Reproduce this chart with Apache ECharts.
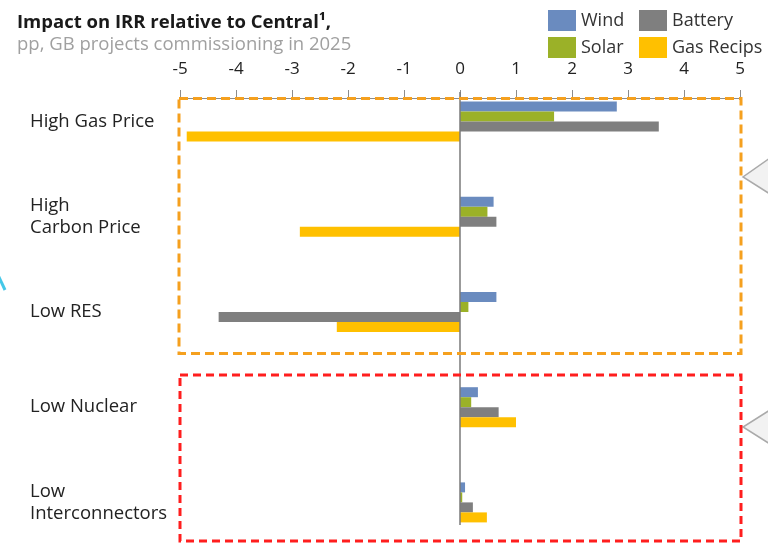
<!DOCTYPE html>
<html>
<head>
<meta charset="utf-8">
<script src="https://cdn.jsdelivr.net/npm/echarts@6/dist/echarts.min.js"></script>
<style>
html,body{margin:0;padding:0;background:#fff;}
#chart{width:768px;height:543px;}
</style>
</head>
<body>
<div id="chart"></div>
<script>
// ===== data =====
const scenarios = ['High Gas Price', 'High\nCarbon Price', 'Low RES', 'Low Nuclear', 'Low\nInterconnectors'];
const windVals    = [2.8, 0.6, 0.65, 0.32, 0.09];
const solarVals   = [1.68, 0.49, 0.15, 0.2, 0.04];
const batteryVals = [3.55, 0.65, -4.31, 0.69, 0.23];
const gasVals     = [-4.88, -2.86, -2.2, 1.0, 0.48];
const xTicks = [-5, -4, -3, -2, -1, 0, 1, 2, 3, 4, 5];

const FONT = '"Open Sans", "Noto Sans", sans-serif';
const colors = { wind: '#6A8BBF', solar: '#9BB128', battery: '#7F7F7F', gas: '#FFC000' };

const chart = echarts.init(document.getElementById('chart'));

const bar = (name, data, color) => ({
    name, type: 'bar', data,
    barWidth: 10, barGap: '0%',
    itemStyle: { color },
    emphasis: { disabled: true },
    animation: false
});

const legendStyle = {
    orient: 'vertical', top: 10, padding: 0, icon: 'rect',
    itemWidth: 28, itemHeight: 21, itemGap: 6, selectedMode: false,
    textStyle: { fontSize: 18, color: '#333', fontFamily: FONT }
};

chart.setOption({
    backgroundColor: '#fff',
    textStyle: { fontFamily: FONT },
    title: {
        left: 17, top: 13, padding: 0,
        text: 'Impact on IRR relative to Central¹,',
        subtext: 'pp, GB projects commissioning in 2025',
        itemGap: 3,
        textStyle: { fontSize: 18.5, fontWeight: 'bold', color: '#1a1a1a', fontFamily: FONT },
        subtextStyle: { fontSize: 18.5, color: '#a0a0a0', fontFamily: FONT }
    },
    legend: [
        Object.assign({ data: ['Wind', 'Solar'], left: 548 }, legendStyle),
        Object.assign({ data: ['Battery', 'Gas Recips'], left: 639 }, legendStyle)
    ],
    grid: { left: 180, width: 560, top: 74, height: 476, containLabel: false, outerBoundsMode: 'none' },
    xAxis: {
        type: 'value', position: 'top', offset: -24,
        min: xTicks[0], max: xTicks[xTicks.length - 1], interval: 1,
        axisLine: { show: true, lineStyle: { color: '#8c8c8c', width: 1 } },
        axisTick: { show: true, length: 8, lineStyle: { color: '#8c8c8c' } },
        axisLabel: { margin: 20, fontSize: 17, color: '#222', fontFamily: FONT },
        splitLine: { show: false }
    },
    yAxis: {
        type: 'category', data: scenarios, inverse: true,
        axisLine: { show: false }, axisTick: { show: false },
        axisLabel: { align: 'left', margin: 150, fontSize: 18.5, lineHeight: 22, color: '#222', fontFamily: FONT },
        splitLine: { show: false }
    },
    series: [
        bar('Wind', windVals, colors.wind),
        bar('Solar', solarVals, colors.solar),
        bar('Battery', batteryVals, colors.battery),
        bar('Gas Recips', gasVals, colors.gas)
    ]
});

// zero line, dashed scenario boxes and cropped callouts
const x0 = chart.convertToPixel({ xAxisIndex: 0 }, 0);
chart.setOption({
    graphic: [
        { type: 'line', silent: true, z: 5, shape: { x1: x0, y1: 92, x2: x0, y2: 525 },
          style: { stroke: '#7a7a7a', lineWidth: 1.5 } },
        { type: 'rect', silent: true, z: 6, shape: { x: 179, y: 98.5, width: 562, height: 255 },
          style: { fill: 'none', stroke: '#F5A01E', lineWidth: 3, lineDash: [9, 5] } },
        { type: 'rect', silent: true, z: 6, shape: { x: 180, y: 375, width: 561, height: 166 },
          style: { fill: 'none', stroke: '#FF1E1E', lineWidth: 3, lineDash: [8, 5] } },
        { type: 'polygon', silent: true, shape: { points: [[770, 158], [743, 177], [770, 194]] },
          style: { fill: '#f2f2f2', stroke: '#aaaaaa', lineWidth: 1.5 } },
        { type: 'polygon', silent: true, shape: { points: [[770, 410], [743, 427], [770, 444]] },
          style: { fill: '#f2f2f2', stroke: '#aaaaaa', lineWidth: 1.5 } },
        { type: 'polyline', silent: true, shape: { points: [[-2, 275], [5, 290]] },
          style: { stroke: '#45c8e8', lineWidth: 3 } }
    ]
});
</script>
</body>
</html>
